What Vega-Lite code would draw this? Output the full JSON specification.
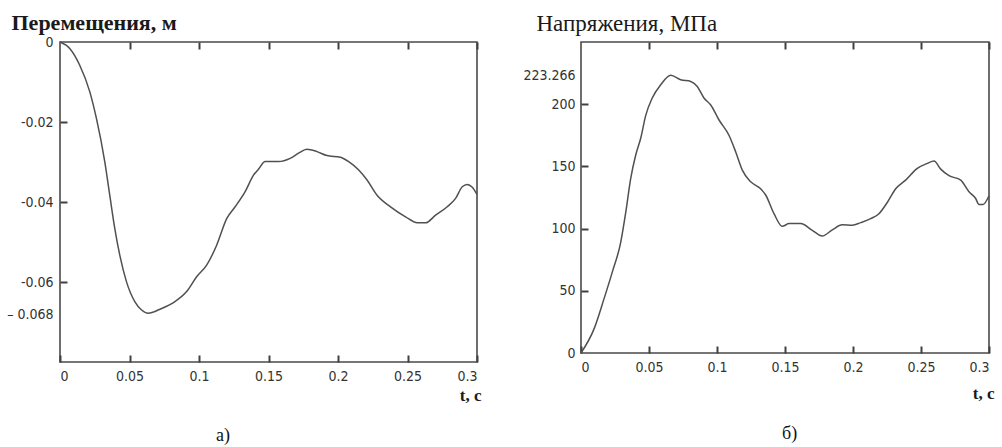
{
  "$schema": "https://vega.github.io/schema/vega-lite/v6.json",
  "background": "white",
  "padding": {"left": 5, "top": 10, "right": 0, "bottom": 0},
  "spacing": 104,
  "bounds": "flush",
  "config": {
    "view": {"stroke": "#4a4a4a", "strokeWidth": 1.6}
  },
  "datasets": {
    "disp": [
      {"t": 0, "u": 0},
      {"t": 0.007, "u": -0.0016},
      {"t": 0.0142, "u": -0.0058},
      {"t": 0.0214, "u": -0.0124},
      {"t": 0.0262, "u": -0.0191},
      {"t": 0.0322, "u": -0.0299},
      {"t": 0.0358, "u": -0.0383},
      {"t": 0.0394, "u": -0.0466},
      {"t": 0.043, "u": -0.0533},
      {"t": 0.0478, "u": -0.0599},
      {"t": 0.0538, "u": -0.0649},
      {"t": 0.0587, "u": -0.067},
      {"t": 0.0635, "u": -0.0678},
      {"t": 0.0719, "u": -0.0668},
      {"t": 0.0827, "u": -0.0649},
      {"t": 0.0911, "u": -0.0624},
      {"t": 0.0983, "u": -0.0587},
      {"t": 0.1055, "u": -0.0558},
      {"t": 0.1127, "u": -0.0508},
      {"t": 0.12, "u": -0.0441},
      {"t": 0.126, "u": -0.0412},
      {"t": 0.1332, "u": -0.0374},
      {"t": 0.1392, "u": -0.0333},
      {"t": 0.1428, "u": -0.0318},
      {"t": 0.1476, "u": -0.0299},
      {"t": 0.1572, "u": -0.0299},
      {"t": 0.1656, "u": -0.0291},
      {"t": 0.1716, "u": -0.0278},
      {"t": 0.1776, "u": -0.0268},
      {"t": 0.1849, "u": -0.0274},
      {"t": 0.1921, "u": -0.0284},
      {"t": 0.2017, "u": -0.0288},
      {"t": 0.2077, "u": -0.0299},
      {"t": 0.2149, "u": -0.032},
      {"t": 0.2209, "u": -0.0345},
      {"t": 0.2281, "u": -0.0383},
      {"t": 0.2378, "u": -0.0412},
      {"t": 0.2486, "u": -0.0437},
      {"t": 0.257, "u": -0.0452},
      {"t": 0.263, "u": -0.0452},
      {"t": 0.2702, "u": -0.0433},
      {"t": 0.2786, "u": -0.0412},
      {"t": 0.2846, "u": -0.0391},
      {"t": 0.2894, "u": -0.0362},
      {"t": 0.293, "u": -0.0356},
      {"t": 0.2966, "u": -0.0363},
      {"t": 0.3, "u": -0.0381}
    ],
    "stress": [
      {"t": 0, "s": 0},
      {"t": 0.0096, "s": 19.4},
      {"t": 0.0169, "s": 43.5},
      {"t": 0.023, "s": 65},
      {"t": 0.0292, "s": 89},
      {"t": 0.0329, "s": 113},
      {"t": 0.0365, "s": 140},
      {"t": 0.0402, "s": 159},
      {"t": 0.0439, "s": 172.6},
      {"t": 0.0476, "s": 191},
      {"t": 0.0524, "s": 205},
      {"t": 0.0586, "s": 215.6},
      {"t": 0.066, "s": 223.3},
      {"t": 0.0733, "s": 219.6},
      {"t": 0.0807, "s": 218.3},
      {"t": 0.0855, "s": 214.3},
      {"t": 0.0904, "s": 205},
      {"t": 0.0954, "s": 199.4},
      {"t": 0.1015, "s": 187.3},
      {"t": 0.1088, "s": 175},
      {"t": 0.1137, "s": 161.8},
      {"t": 0.1186, "s": 147},
      {"t": 0.1248, "s": 137.6},
      {"t": 0.1321, "s": 132},
      {"t": 0.1358, "s": 127},
      {"t": 0.1419, "s": 112},
      {"t": 0.148, "s": 101.8},
      {"t": 0.153, "s": 104},
      {"t": 0.1554, "s": 104},
      {"t": 0.1615, "s": 104},
      {"t": 0.1701, "s": 98.6},
      {"t": 0.1774, "s": 94},
      {"t": 0.1848, "s": 99},
      {"t": 0.1921, "s": 103},
      {"t": 0.1995, "s": 102.7},
      {"t": 0.2057, "s": 104.8},
      {"t": 0.213, "s": 108},
      {"t": 0.2191, "s": 112},
      {"t": 0.2252, "s": 121},
      {"t": 0.2314, "s": 132},
      {"t": 0.2387, "s": 139},
      {"t": 0.2473, "s": 148.4},
      {"t": 0.2546, "s": 152.4},
      {"t": 0.2596, "s": 154.3},
      {"t": 0.2645, "s": 147.8},
      {"t": 0.2706, "s": 142.5},
      {"t": 0.2792, "s": 139},
      {"t": 0.2853, "s": 129.6},
      {"t": 0.2902, "s": 124.2},
      {"t": 0.2926, "s": 119.4},
      {"t": 0.2956, "s": 119.4},
      {"t": 0.3, "s": 126.4}
    ]
  },
  "hconcat": [
    {
      "width": 417,
      "height": 320,
      "data": {"name": "disp"},
      "title": {"text": "а)", "orient": "bottom", "anchor": "start", "frame": "group", "dx": 156, "offset": 24, "font": "Liberation Serif", "fontSize": 18, "fontWeight": "normal", "color": "#111111"},
      "layer": [
        {
          "mark": {"type": "line", "color": "#505050", "strokeWidth": 1.5, "interpolate": "monotone"},
          "encoding": {
            "x": {
              "field": "t", "type": "quantitative",
              "scale": {"domain": [0, 0.3], "nice": false, "zero": false},
              "axis": {
                "orient": "bottom",
                "grid": false,
                "values": [0, 0.05, 0.1, 0.15, 0.2, 0.25, 0.3],
                "format": ".2~f",
                "domain": false,
                "offset": -7,
                "tickSize": 7,
                "tickColor": "#404040",
                "tickWidth": 2,
                "labelColor": "#333333",
                "labelFont": "DejaVu Sans Condensed",
                "labelFontSize": 14,
                "labelPadding": 7,
                "title": "t, c",
                "titleColor": "#1a1a1a",
                "titleFont": "Liberation Serif",
                "titleFontWeight": "bold",
                "titleFontSize": 17,
                "titleAnchor": "end",
                "titleAlign": "right",
                "titleBaseline": "alphabetic",
                "titleX": 421,
                "titleY": 45
              }
            },
            "y": {
              "field": "u", "type": "quantitative",
              "scale": {"domain": [-0.08, 0], "nice": false, "zero": false},
              "axis": {
                "orient": "left",
                "grid": false,
                "values": [0, -0.02, -0.04, -0.06, -0.068],
                "labelExpr": "datum.value == 0 ? '0' : (datum.value < -0.065 ? '– 0.068' : '-' + format(-datum.value, '.2f'))",
                "domain": false,
                "offset": -7,
                "tickSize": 7,
                "tickColor": "#404040",
                "tickWidth": 2,
                "tickOpacity": {"condition": {"test": "datum.value < -0.065 || datum.value == 0", "value": 0}, "value": 1},
                "labelColor": "#333333",
                "labelFont": "DejaVu Sans Condensed",
                "labelFontSize": 14,
                "labelPadding": 7,
                "title": "Перемещения, м",
                "titleColor": "#1a1a1a",
                "titleFont": "Liberation Serif",
                "titleFontWeight": "bold",
                "titleFontSize": 22,
                "titleAngle": 0,
                "titleAlign": "left",
                "titleBaseline": "alphabetic",
                "titleX": -56,
                "titleY": -13
              }
            }
          }
        },
        {
          "mark": {"type": "line", "opacity": 0},
          "encoding": {
            "x": {
              "field": "t", "type": "quantitative",
              "axis": {"orient": "top", "grid": false, "values": [0.05, 0.1, 0.15, 0.2, 0.25, 0.3], "labels": false, "title": null, "domain": false, "offset": -7, "tickSize": 7, "tickColor": "#404040", "tickWidth": 2}
            },
            "y": {"field": "u", "type": "quantitative", "axis": null}
          }
        }
      ],
      "resolve": {"axis": {"x": "independent", "y": "independent"}}
    },
    {
      "width": 408,
      "height": 311,
      "data": {"name": "stress"},
      "title": {"text": "б)", "orient": "bottom", "anchor": "start", "frame": "group", "dx": 201, "offset": 24, "font": "Liberation Serif", "fontSize": 18, "fontWeight": "normal", "color": "#111111"},
      "layer": [
        {
          "mark": {"type": "line", "color": "#505050", "strokeWidth": 1.5, "interpolate": "monotone"},
          "encoding": {
            "x": {
              "field": "t", "type": "quantitative",
              "scale": {"domain": [0, 0.3], "nice": false, "zero": false},
              "axis": {
                "orient": "bottom",
                "grid": false,
                "values": [0, 0.05, 0.1, 0.15, 0.2, 0.25, 0.3],
                "format": ".2~f",
                "domain": false,
                "offset": -7,
                "tickSize": 7,
                "tickColor": "#404040",
                "tickWidth": 2,
                "labelColor": "#333333",
                "labelFont": "DejaVu Sans Condensed",
                "labelFontSize": 14,
                "labelPadding": 7,
                "title": "t, c",
                "titleColor": "#1a1a1a",
                "titleFont": "Liberation Serif",
                "titleFontWeight": "bold",
                "titleFontSize": 17,
                "titleAnchor": "end",
                "titleAlign": "right",
                "titleBaseline": "alphabetic",
                "titleX": 413,
                "titleY": 52
              }
            },
            "y": {
              "field": "s", "type": "quantitative",
              "scale": {"domain": [0, 250], "nice": false, "zero": false},
              "axis": {
                "orient": "left",
                "grid": false,
                "values": [0, 50, 100, 150, 200, 223.266],
                "format": ".3~f",
                "domain": false,
                "offset": -7,
                "tickSize": 7,
                "tickColor": "#404040",
                "tickWidth": 2,
                "tickOpacity": {"condition": {"test": "datum.value > 210 || datum.value == 0", "value": 0}, "value": 1},
                "labelColor": "#333333",
                "labelFont": "DejaVu Sans Condensed",
                "labelFontSize": 14,
                "labelPadding": 6,
                "title": "Напряжения, МПа",
                "titleColor": "#1a1a1a",
                "titleFont": "Liberation Serif",
                "titleFontWeight": "normal",
                "titleFontSize": 23,
                "titleAngle": 0,
                "titleAlign": "left",
                "titleBaseline": "alphabetic",
                "titleX": -52,
                "titleY": -12
              }
            }
          }
        },
        {
          "mark": {"type": "line", "opacity": 0},
          "encoding": {
            "x": {
              "field": "t", "type": "quantitative",
              "axis": {"orient": "top", "grid": false, "values": [0.05, 0.1, 0.15, 0.2, 0.25, 0.3], "labels": false, "title": null, "domain": false, "offset": -7, "tickSize": 7, "tickColor": "#404040", "tickWidth": 2}
            },
            "y": {"field": "s", "type": "quantitative", "axis": null}
          }
        }
      ],
      "resolve": {"axis": {"x": "independent", "y": "independent"}}
    }
  ]
}
